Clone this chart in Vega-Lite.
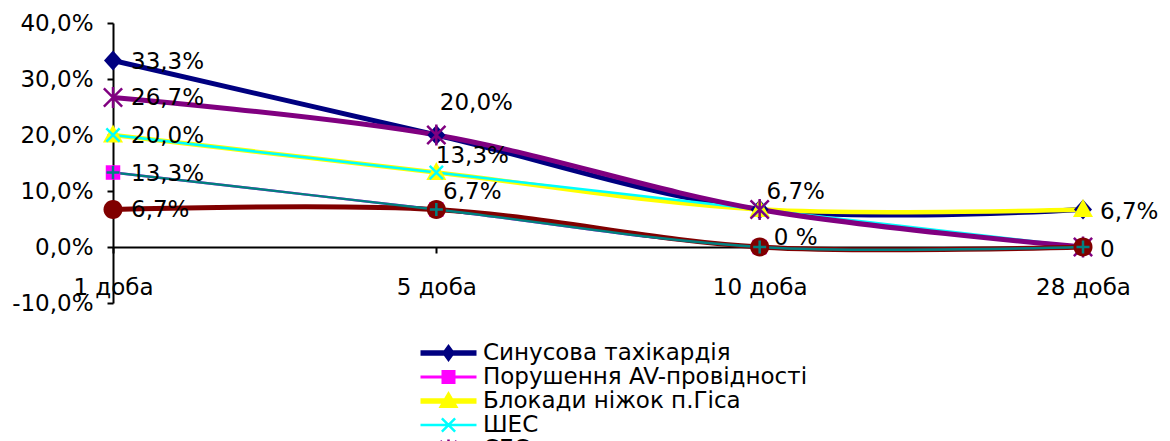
{
  "$schema": "https://vega.github.io/schema/vega-lite/v6.json",
  "width": 970,
  "height": 280,
  "autosize": {"type": "none"},
  "padding": {"left": 113, "top": 23, "right": 87, "bottom": 138},
  "background": "white",
  "config": {
    "view": {"stroke": null},
    "font": "DejaVu Sans",
    "locale": {
      "number": {"decimal": ",", "thousands": " ", "grouping": [3], "currency": ["", " грн"], "minus": "-"}
    }
  },
  "datasets": {
    "series": [
      {"series": "Синусова тахікардія", "doba": "1 доба", "value": 0.333},
      {"series": "Синусова тахікардія", "doba": "5 доба", "value": 0.2},
      {"series": "Синусова тахікардія", "doba": "10 доба", "value": 0.067},
      {"series": "Синусова тахікардія", "doba": "28 доба", "value": 0.067},
      {"series": "Порушення AV-провідності", "doba": "1 доба", "value": 0.133},
      {"series": "Порушення AV-провідності", "doba": "5 доба", "value": 0.067},
      {"series": "Порушення AV-провідності", "doba": "10 доба", "value": 0},
      {"series": "Порушення AV-провідності", "doba": "28 доба", "value": 0},
      {"series": "Блокади ніжок п.Гіса", "doba": "1 доба", "value": 0.2},
      {"series": "Блокади ніжок п.Гіса", "doba": "5 доба", "value": 0.133},
      {"series": "Блокади ніжок п.Гіса", "doba": "10 доба", "value": 0.067},
      {"series": "Блокади ніжок п.Гіса", "doba": "28 доба", "value": 0.067},
      {"series": "ШЕС", "doba": "1 доба", "value": 0.2},
      {"series": "ШЕС", "doba": "5 доба", "value": 0.133},
      {"series": "ШЕС", "doba": "10 доба", "value": 0.067},
      {"series": "ШЕС", "doba": "28 доба", "value": 0},
      {"series": "СЕС", "doba": "1 доба", "value": 0.267},
      {"series": "СЕС", "doba": "5 доба", "value": 0.2},
      {"series": "СЕС", "doba": "10 доба", "value": 0.067},
      {"series": "СЕС", "doba": "28 доба", "value": 0},
      {"series": "Ряд6", "doba": "1 доба", "value": 0.067},
      {"series": "Ряд6", "doba": "5 доба", "value": 0.067},
      {"series": "Ряд6", "doba": "10 доба", "value": 0},
      {"series": "Ряд6", "doba": "28 доба", "value": 0},
      {"series": "Ряд7", "doba": "1 доба", "value": 0.133},
      {"series": "Ряд7", "doba": "5 доба", "value": 0.067},
      {"series": "Ряд7", "doba": "10 доба", "value": 0},
      {"series": "Ряд7", "doba": "28 доба", "value": 0}
    ],
    "labels": [
      {"doba": "1 доба", "value": 0.333, "label": "33,3%"},
      {"doba": "1 доба", "value": 0.267, "label": "26,7%"},
      {"doba": "1 доба", "value": 0.2, "label": "20,0%"},
      {"doba": "1 доба", "value": 0.133, "label": "13,3%"},
      {"doba": "1 доба", "value": 0.067, "label": "6,7%"},
      {"doba": "5 доба", "value": 0.2, "label": "20,0%"},
      {"doba": "5 доба", "value": 0.133, "label": "13,3%"},
      {"doba": "5 доба", "value": 0.067, "label": "6,7%"},
      {"doba": "10 доба", "value": 0.067, "label": "6,7%"},
      {"doba": "10 доба", "value": 0, "label": "0 %"},
      {"doba": "28 доба", "value": 0.067, "label": "6,7%"},
      {"doba": "28 доба", "value": 0, "label": "0"}
    ]
  },
  "encoding": {
    "x": {
      "field": "doba",
      "type": "ordinal",
      "scale": {"type": "point", "domain": ["1 доба", "5 доба", "10 доба", "28 доба"], "padding": 0},
      "axis": {
        "title": null,
        "orient": "bottom",
        "offset": -56,
        "labelAngle": 0,
        "labelFont": "DejaVu Sans",
        "labelFontSize": 23,
        "labelColor": "black",
        "labelPadding": 23,
        "domainColor": "black",
        "domainWidth": 2,
        "tickColor": "black",
        "tickWidth": 2,
        "tickSize": 6,
        "grid": false
      }
    },
    "y": {
      "field": "value",
      "type": "quantitative",
      "scale": {"domain": [-0.1, 0.4], "nice": false, "zero": false},
      "axis": {
        "title": null,
        "values": [-0.1, 0, 0.1, 0.2, 0.3, 0.4],
        "format": ".1%",
        "labelFont": "DejaVu Sans",
        "labelFontSize": 23,
        "labelColor": "black",
        "labelPadding": 14,
        "domainColor": "black",
        "domainWidth": 2,
        "tickColor": "black",
        "tickWidth": 2,
        "tickSize": 6,
        "grid": false
      }
    }
  },
  "layer": [
    {
      "data": {"name": "series"},
      "mark": {"type": "line", "interpolate": "cardinal", "strokeJoin": "round"},
      "encoding": {
        "stroke": {
          "field": "series",
          "type": "nominal",
          "scale": {
            "domain": ["Ряд7", "Ряд6", "СЕС", "ШЕС", "Блокади ніжок п.Гіса", "Порушення AV-провідності", "Синусова тахікардія"],
            "range": ["#008080", "#800000", "#800080", "#00FFFF", "#FFFF00", "#FF00FF", "#000080"]
          },
          "legend": null
        },
        "strokeWidth": {
          "field": "series",
          "type": "nominal",
          "scale": {
            "type": "ordinal",
            "domain": ["Ряд7", "Ряд6", "СЕС", "ШЕС", "Блокади ніжок п.Гіса", "Порушення AV-провідності", "Синусова тахікардія"],
            "range": [2.5, 5, 5, 2.5, 4.5, 2.5, 5]
          },
          "legend": null
        }
      }
    },
    {
      "data": {"name": "series"},
      "mark": {"type": "point", "filled": true, "size": 100, "strokeWidth": 0, "opacity": 1},
      "encoding": {
        "fill": {
          "field": "series",
          "type": "nominal",
          "scale": {
            "domain": ["Синусова тахікардія", "Порушення AV-провідності", "Блокади ніжок п.Гіса", "ШЕС", "СЕС", "Ряд6", "Ряд7"],
            "range": ["#000080", "#FF00FF", "#FFFF00", "#00FFFF", "#800080", "#800000", "#008080"]
          },
          "legend": {
            "title": null,
            "orient": "none",
            "legendX": 324,
            "legendY": 318.5,
            "direction": "vertical",
            "padding": 0,
            "labelFont": "DejaVu Sans",
            "labelFontSize": 23,
            "labelColor": "black",
            "labelLimit": 0,
            "labelOffset": 23,
            "rowPadding": 0,
            "symbolOffset": 0,
            "symbolSize": 100,
            "symbolStrokeWidth": 0,
            "symbolOpacity": 1,
            "symbolType": {
              "expr": "['M-5.6,-0.55H5.6V0.55H-5.6Z M0,-1.8L1.3,0L0,1.8L-1.3,0Z', 'M-5.6,-0.3H5.6V0.3H-5.6Z M-1.4,-1.4H1.4V1.4H-1.4Z', 'M-5.6,-0.55H5.6V0.55H-5.6Z M0,-2L2,1.4H-2Z', 'M-5.6,-0.25H5.6V0.25H-5.6Z M-1.15,-1.5L1.5,1.15L1.15,1.5L-1.5,-1.15Z M1.15,-1.5L1.5,-1.15L-1.15,1.5L-1.5,1.15Z', 'M-5.6,-0.5H5.6V0.5H-5.6Z M-1.45,-1.8L1.8,1.45L1.45,1.8L-1.8,-1.45Z M1.45,-1.8L1.8,-1.45L-1.45,1.8L-1.8,1.45Z M-0.25,-1.9H0.25V1.9H-0.25Z', 'M-5.6,-0.5H5.6V0.5H-5.6Z M-1.8,0A1.8,1.8 0 1,1 1.8,0A1.8,1.8 0 1,1 -1.8,0Z', 'M-5.6,-0.25H5.6V0.25H-5.6Z M-1.3,-0.25H1.3V0.25H-1.3Z M-0.25,-1.3H0.25V1.3H-0.25Z'][datum.index]"
            }
          }
        },
        "shape": {
          "field": "series",
          "type": "nominal",
          "scale": {
            "domain": ["Ряд7", "Ряд6", "СЕС", "ШЕС", "Блокади ніжок п.Гіса", "Порушення AV-провідності", "Синусова тахікардія"],
            "range": [
              "M-1.3,-0.25H1.3V0.25H-1.3Z M-0.25,-1.3H0.25V1.3H-0.25Z",
              "M-1.9,0A1.9,1.9 0 1,1 1.9,0A1.9,1.9 0 1,1 -1.9,0Z",
              "M-1.65,-2L2,1.65L1.65,2L-2,-1.65Z M1.65,-2L2,-1.65L-1.65,2L-2,1.65Z M-0.25,-2.1H0.25V2.1H-0.25Z",
              "M-1.15,-1.5L1.5,1.15L1.15,1.5L-1.5,-1.15Z M1.15,-1.5L1.5,-1.15L-1.15,1.5L-1.5,1.15Z",
              "M0,-2.1L2,1.5H-2Z",
              "M-1.45,-1.45H1.45V1.45H-1.45Z",
              "M0,-2L1.8,0L0,2L-1.8,0Z"
            ]
          },
          "legend": null
        }
      }
    },
    {
      "data": {"name": "labels"},
      "transform": [{"filter": "datum.doba === '1 доба'"}],
      "mark": {"type": "text", "align": "left", "baseline": "middle", "dx": 18, "dy": 1, "font": "DejaVu Sans", "fontSize": 23, "color": "black"},
      "encoding": {"text": {"field": "label", "type": "nominal"}}
    },
    {
      "data": {"name": "labels"},
      "transform": [{"filter": "datum.doba === '5 доба' && datum.value > 0.15"}],
      "mark": {"type": "text", "align": "center", "baseline": "middle", "dx": 40, "dy": -32, "font": "DejaVu Sans", "fontSize": 23, "color": "black"},
      "encoding": {"text": {"field": "label", "type": "nominal"}}
    },
    {
      "data": {"name": "labels"},
      "transform": [{"filter": "(datum.doba === '5 доба' && datum.value < 0.15) || (datum.doba === '10 доба' && datum.value > 0)"}],
      "mark": {"type": "text", "align": "center", "baseline": "middle", "dx": 36, "dy": -17, "font": "DejaVu Sans", "fontSize": 23, "color": "black"},
      "encoding": {"text": {"field": "label", "type": "nominal"}}
    },
    {
      "data": {"name": "labels"},
      "transform": [{"filter": "datum.doba === '10 доба' && datum.value === 0"}],
      "mark": {"type": "text", "align": "center", "baseline": "middle", "dx": 36, "dy": -9, "font": "DejaVu Sans", "fontSize": 23, "color": "black"},
      "encoding": {"text": {"field": "label", "type": "nominal"}}
    },
    {
      "data": {"name": "labels"},
      "transform": [{"filter": "datum.doba === '28 доба'"}],
      "mark": {"type": "text", "align": "left", "baseline": "middle", "dx": 17, "dy": 3, "font": "DejaVu Sans", "fontSize": 23, "color": "black"},
      "encoding": {"text": {"field": "label", "type": "nominal"}}
    }
  ]
}
